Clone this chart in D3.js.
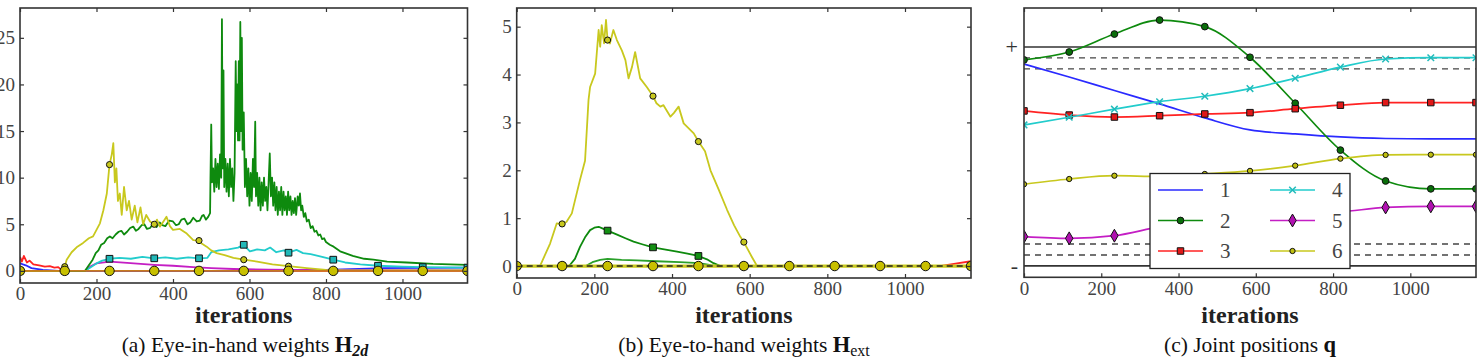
<!DOCTYPE html>
<html>
<head>
<meta charset="utf-8">
<script src="https://cdn.jsdelivr.net/npm/d3@7"></script>
<style>
body { margin: 0; background: #fff; }
svg { display: block; }
</style>
</head>
<body>
<script>
// iterations where matplotlib-style markers sit (markevery)
const markIters = [0, 117, 234, 351, 468, 585, 702, 819, 936, 1053, 1170];
const xTickVals = [0, 200, 400, 600, 800, 1000];

// (a) eye-in-hand weights, [iteration, weight]
const aRed = [[0,1.5],[5,1.0],[10,1.6],[18,0.9],[25,1.1],[35,0.7],[50,0.6],[65,0.45],[78,0.5],[90,0.35],[100,0.4],[108,0.1],[115,0],[1170,0]];
const aBlue = [[0,0.8],[15,0.6],[30,0.3],[60,0.1],[100,0],[600,0],[800,0.1],[950,0.3],[1170,0.35]];
const aMagenta = [[0,0],[170,0],[185,0.5],[200,0.8],[235,1.0],[280,0.85],[351,0.65],[400,0.55],[453,0.4],[500,0.3],[558,0.2],[650,0.12],[800,0.08],[1170,0.05]];
const aCyan = [[0,0],[117,0],[170,0],[185,0.4],[200,0.8],[215,1.1],[234,1.3],[260,1.4],[290,1.3],[320,1.5],[351,1.35],[380,1.45],[410,1.3],[440,1.45],[468,1.35],[490,1.4],[500,2.0],[520,2.2],[545,2.3],[570,2.5],[585,2.8],[601,2.1],[620,2.3],[640,2.2],[654,2.5],[670,2.0],[690,2.2],[702,1.95],[723,2.25],[740,1.9],[760,1.8],[790,1.5],[819,1.2],[850,0.9],[890,0.7],[936,0.55],[1000,0.45],[1053,0.4],[1170,0.35]];
const aYellow = [[0,0],[113,0],[117,0.45],[122,1.2],[135,2.0],[150,2.6],[165,3.0],[180,3.5],[191,3.7],[200,4.4],[209,5.1],[218,6.5],[227,8.3],[234,11.4],[240,12.5],[244,13.7],[248,9.5],[252,11],[256,7.5],[261,8.3],[266,6.0],[272,9.0],[279,6.5],[285,7.5],[292,5.5],[300,7.0],[307,5.2],[315,6.8],[322,5.0],[330,6.0],[340,5.3],[351,5.0],[358,5.5],[366,4.75],[375,5.3],[383,5.8],[392,4.8],[400,4.4],[418,4.5],[436,4.0],[453,3.3],[468,3.25],[476,2.9],[488,2.6],[500,2.2],[514,1.9],[535,1.7],[558,1.4],[585,1.2],[620,1.0],[660,0.7],[702,0.5],[750,0.3],[800,0.1],[819,0.08],[850,0.05],[936,0.05],[1053,0.05],[1170,0.05]];
const aGreen = [[0,0],[170,0],[175,0.3],[185,0.9],[190,1.2],[198,1.9],[205,2.2],[212,2.8],[220,3.0],[228,3.5],[235,3.7],[242,3.5],[250,3.9],[258,4.2],[265,4.3],[272,3.9],[280,4.2],[288,4.6],[296,4.75],[303,4.3],[310,4.5],[318,4.9],[325,5.0],[332,4.5],[340,4.6],[349,5.1],[357,4.7],[365,5.2],[372,4.9],[380,4.8],[390,5.4],[400,5.3],[408,4.9],[415,5.0],[422,5.5],[430,5.6],[438,5.0],[445,5.2],[453,5.7],[462,5.3],[470,5.4],[476,5.9],[480,6.0],[486,5.5],[492,5.8],[497,6.2],
    [498,10],[500,15.7],[502,9.5],[505,11],[508,8.5],[511,12],[514,9],[517,11.5],[520,8.8],[523,12.5],[526,10],[528,27],[530,11],[532,21.5],[534,9],[537,12],[540,8.5],[543,11.5],[546,8],[549,12],[552,9],[555,11],[558,7.5],[561,10.5],[564,22.5],[566,15],[568,20],[570,14],[572,22.5],[574,14],[576,26.7],[578,15],[580,25],[582,13],[585,17],[588,9],[591,12],[594,8],[597,11],[600,7],[603,10.5],[606,7.5],[609,12],[612,9],[615,16],[617,8],[620,10.5],[623,7],[626,10],[629,6.5],[632,9.5],[635,7],[638,10],[641,7.5],[644,9],[647,6.5],[650,9.5],[653,12.6],[656,8],[659,10],[662,7],[665,9.5],[668,6.5],[671,9],[674,6],[677,8.5],[680,6.5],[683,9],[686,6],[689,8.5],[692,6.5],[695,8],[698,6],[701,8.5],[704,6.5],[707,8],[710,6],[713,7.5],[716,6.2],[719,7.8],[722,6],[726,8],[729,7],[732,8.3],[735,6.5],[738,7],[742,5.8],[746,6.2],[750,5.3],[755,5.5],[760,4.6],[765,4.8],[770,4.2],[775,4.3],[780,3.8],[785,3.9],[790,3.4],[795,3.5],[800,3.1],[810,2.8],[820,2.6],[837,2.1],[850,1.9],[870,1.6],[900,1.3],[924,1.2],[960,1.0],[1011,0.9],[1080,0.75],[1170,0.65]];
const aZero = markIters.map(it => [it, 0]);

// (b) eye-to-hand weights
const bRed = [[0,0],[1090,0],[1130,0.05],[1170,0.1]];
const bGreenLow = [[0,0],[178,0],[195,0.08],[215,0.13],[234,0.15],[270,0.13],[310,0.12],[360,0.1],[420,0.08],[470,0.06],[500,0.02],[520,0],[1170,0]];
const bGreen = [[0,0],[117,0],[135,0],[150,0.15],[163,0.4],[176,0.6],[189,0.75],[200,0.8],[211,0.82],[222,0.78],[234,0.74],[260,0.65],[280,0.58],[301,0.51],[325,0.45],[351,0.39],[380,0.35],[413,0.3],[440,0.26],[468,0.21],[490,0.14],[507,0.06],[525,0],[585,0],[1170,0]];
const bYellow = [[0,0],[60,0],[86,0.47],[103,0.89],[117,0.88],[128,0.92],[142,1.1],[163,1.8],[176,2.2],[185,3.47],[189,3.74],[202,4.02],[211,4.93],[215,4.58],[219,5.03],[225,4.65],[230,5.14],[234,4.72],[240,4.65],[249,4.93],[258,4.72],[271,4.5],[280,4.3],[288,3.92],[297,4.16],[305,4.47],[318,3.92],[335,3.74],[351,3.55],[360,3.4],[370,3.33],[378,3.36],[396,3.12],[405,3.2],[417,3.33],[430,2.98],[456,2.77],[468,2.6],[485,2.4],[499,2.0],[520,1.6],[542,1.17],[560,0.85],[576,0.61],[585,0.5],[605,0.2],[619,0],[1170,0]];
const bZero = markIters.map(it => [it, 0]);

// (c) joint positions, normalised: 0 = lower limit (-), 1 = upper limit (+)
const qIter = markIters;
const q1 = [0.922,0.863,0.801,0.74,0.676,0.621,0.603,0.589,0.582,0.58,0.58];
const q2 = [0.941,0.977,1.059,1.123,1.093,0.953,0.743,0.529,0.388,0.352,0.352];
const q3 = [0.708,0.689,0.68,0.686,0.694,0.7,0.718,0.734,0.746,0.746,0.746];
const q4 = [0.644,0.679,0.716,0.75,0.775,0.81,0.857,0.908,0.945,0.951,0.951];
const q5 = [0.134,0.126,0.138,0.178,0.205,0.226,0.24,0.247,0.267,0.272,0.272];
const q6 = [0.373,0.397,0.412,0.409,0.42,0.434,0.458,0.49,0.507,0.508,0.508];
const qLimits = [0, 1];
const qMargins = [0.05, 0.1, 0.9, 0.95];
const legendLabels = ["1", "2", "3", "4", "5", "6"];

const C = {
    blue: "#2a2aff", green: "#0e8a0e", red: "#ff2222",
    cyan: "#22cccc", magenta: "#c41ec4", yellow: "#c8c81e"
};
const serif = "'Liberation Serif', 'DejaVu Serif', serif";

const svg = d3.select("body").append("svg")
    .attr("width", 1480).attr("height", 359);

function drawPanel(p, id) {
    let x = d3.scaleLinear().domain([0, 1170]).range([p.left, p.right]);
    let y = d3.scaleLinear().domain(p.yDomain).range([p.bottom, p.top]);
    let g = svg.append("g");

    g.append("clipPath").attr("id", id)
        .append("rect")
        .attr("x", p.left).attr("y", p.top)
        .attr("width", p.right - p.left).attr("height", p.bottom - p.top);
    let plot = g.append("g").attr("clip-path", "url(#" + id + ")");

    // inward ticks on every side, labels only bottom/left
    let bottom = g.append("g").attr("transform", "translate(0," + p.bottom + ")")
        .call(d3.axisBottom(x).tickValues(xTickVals).tickSize(-4).tickSizeOuter(0)
            .tickPadding(4).tickFormat(d3.format("d")));
    let top = g.append("g").attr("transform", "translate(0," + p.top + ")")
        .call(d3.axisTop(x).tickValues(xTickVals).tickSize(-4).tickSizeOuter(0).tickFormat(""));
    let axes = [bottom, top];
    if (p.yTicks) {
        axes.push(g.append("g").attr("transform", "translate(" + p.left + ",0)")
            .call(d3.axisLeft(y).tickValues(p.yTicks).tickSize(-4).tickSizeOuter(0)
                .tickPadding(5).tickFormat(d3.format("d"))));
        axes.push(g.append("g").attr("transform", "translate(" + p.right + ",0)")
            .call(d3.axisRight(y).tickValues(p.yTicks).tickSize(-4).tickSizeOuter(0).tickFormat("")));
    }
    axes.forEach(a => {
        a.select(".domain").remove();
        a.selectAll("line").attr("stroke", "#333").attr("stroke-width", 1.2);
        a.selectAll("text").attr("font-family", serif).attr("font-size", 19).attr("fill", "#444");
    });

    g.append("text")
        .attr("x", (p.left + p.right) / 2).attr("y", 323)
        .attr("text-anchor", "middle")
        .attr("font-family", serif).attr("font-size", 24).attr("font-weight", "bold")
        .attr("fill", "#222")
        .text("iterations");

    return {x: x, y: y, g: g, plot: plot, p: p};
}

function drawFrame(P) {
    let p = P.p;
    P.g.append("rect")
        .attr("x", p.left).attr("y", p.top)
        .attr("width", p.right - p.left).attr("height", p.bottom - p.top)
        .attr("fill", "none").attr("stroke", "#333").attr("stroke-width", 1.6);
}

function drawLine(P, data, color, opts) {
    opts = opts || {};
    let line = d3.line()
        .x(d => P.x(d[0])).y(d => P.y(d[1]))
        .curve(opts.curve || d3.curveLinear);
    P.plot.append("path").datum(data)
        .attr("d", line)
        .attr("fill", "none").attr("stroke", color)
        .attr("stroke-width", opts.width || 1.8)
        .attr("stroke-linejoin", "round")
        .attr("stroke-dasharray", opts.dash || null);
}

function symbolFor(kind) {
    if (kind === "square") return d3.symbolSquare;
    if (kind === "diamond") return d3.symbolDiamond;
    if (kind === "x") return d3.symbolTimes;
    return d3.symbolCircle;
}

function drawMarkers(P, data, kind, fill, size) {
    let pts = data.filter(d => markIters.indexOf(d[0]) >= 0);
    P.plot.selectAll(null).data(pts).enter().append("path")
        .attr("transform", d => "translate(" + P.x(d[0]) + "," + P.y(d[1]) + ")")
        .attr("d", d3.symbol().type(symbolFor(kind)).size(size))
        .attr("fill", kind === "x" ? "none" : fill)
        .attr("stroke", kind === "x" ? fill : "#111")
        .attr("stroke-width", kind === "x" ? 1.5 : 1);
}

// ---------- (a)
let A = drawPanel({left: 20, top: 8, right: 467.5, bottom: 283, yDomain: [-1.3, 28.2], yTicks: [0, 5, 10, 15, 20, 25]}, "clipA");
drawLine(A, aRed, C.red);
drawLine(A, aBlue, C.blue);
drawLine(A, aMagenta, C.magenta);
drawLine(A, aCyan, C.cyan);
drawLine(A, aGreen, C.green);
drawLine(A, aYellow, C.yellow);
drawLine(A, aZero, "#c87a1e", {width: 1.8});
drawMarkers(A, aCyan, "square", "#20b8b8", 45);
drawMarkers(A, aYellow, "circle", "#c8c81e", 30);
drawMarkers(A, aZero, "circle", "#c8c000", 70);
drawFrame(A);

// ---------- (b)
let B = drawPanel({left: 516.7, top: 8, right: 971, bottom: 278, yDomain: [-0.25, 5.39], yTicks: [0, 1, 2, 3, 4, 5]}, "clipB");
drawLine(B, bRed, C.red);
drawLine(B, bGreenLow, "#2aa02a");
drawLine(B, bGreen, C.green);
drawLine(B, bYellow, C.yellow);
drawLine(B, bZero, C.yellow, {width: 3.2});
drawLine(B, bZero, "#222", {width: 1.6, dash: "6,4"});
drawMarkers(B, bGreen, "square", "#139013", 45);
drawMarkers(B, bYellow, "circle", "#c8c81e", 30);
drawMarkers(B, bZero, "circle", "#c8c000", 70);
drawFrame(B);

// ---------- (c)
let Q = drawPanel({left: 1024, top: 8, right: 1476, bottom: 277.3, yDomain: [-0.052, 1.178]}, "clipC");
qLimits.forEach(v => {
    Q.plot.append("line")
        .attr("x1", Q.p.left).attr("x2", Q.p.right)
        .attr("y1", Q.y(v)).attr("y2", Q.y(v))
        .attr("stroke", "#333").attr("stroke-width", 1.6);
});
qMargins.forEach(v => {
    Q.plot.append("line")
        .attr("x1", Q.p.left).attr("x2", Q.p.right)
        .attr("y1", Q.y(v)).attr("y2", Q.y(v))
        .attr("stroke", "#444").attr("stroke-width", 1.4).attr("stroke-dasharray", "6,5");
});
Q.g.selectAll(null).data([["+", 1], ["-", 0]]).enter().append("text")
    .attr("x", 1018).attr("y", d => Q.y(d[1]))
    .attr("dy", "0.33em")
    .attr("text-anchor", "end")
    .attr("font-family", serif).attr("font-size", 22).attr("fill", "#333")
    .text(d => d[0]);

let joints = [
    {v: q1, color: C.blue, marker: null},
    {v: q2, color: C.green, marker: "circle", mfill: "#0a6e0a", size: 36},
    {v: q3, color: C.red, marker: "square", mfill: "#e01818", size: 42},
    {v: q4, color: C.cyan, marker: "x", mfill: "#22bbbb", size: 30},
    {v: q5, color: C.magenta, marker: "diamond", mfill: "#b010b0", size: 48},
    {v: q6, color: C.yellow, marker: "circle", mfill: "#c0c010", size: 22}
];
joints.forEach(j => {
    let data = qIter.map((it, i) => [it, j.v[i]]);
    drawLine(Q, data, j.color, {curve: d3.curveMonotoneX, width: 1.7});
    if (j.marker) drawMarkers(Q, data, j.marker, j.mfill, j.size);
});
drawFrame(Q);

// legend
let lg = Q.g.append("g");
lg.append("rect")
    .attr("x", 1150).attr("y", 173.5).attr("width", 200).attr("height", 95)
    .attr("fill", "#fff").attr("stroke", "#222").attr("stroke-width", 1.3);
joints.forEach((j, i) => {
    let col = Math.floor(i / 3), row = i % 3;
    let x0 = col === 0 ? 1158 : 1270;
    let yy = 190 + row * 30.5;
    lg.append("line").attr("x1", x0).attr("x2", x0 + 45).attr("y1", yy).attr("y2", yy)
        .attr("stroke", j.color).attr("stroke-width", 1.7);
    if (j.marker) {
        lg.append("path")
            .attr("transform", "translate(" + (x0 + 22.5) + "," + yy + ")")
            .attr("d", d3.symbol().type(symbolFor(j.marker)).size(j.size))
            .attr("fill", j.marker === "x" ? "none" : j.mfill)
            .attr("stroke", j.marker === "x" ? j.mfill : "#111")
            .attr("stroke-width", j.marker === "x" ? 1.5 : 1);
    }
    lg.append("text").attr("x", col === 0 ? 1220 : 1332).attr("y", yy).attr("dy", "0.35em")
        .attr("font-family", serif).attr("font-size", 21).attr("fill", "#444")
        .text(legendLabels[i]);
});

// captions
function caption(cx, lead, bold, sub) {
    let t = svg.append("text")
        .attr("x", cx).attr("y", 352).attr("text-anchor", "middle")
        .attr("font-family", serif).attr("font-size", 21.5).attr("fill", "#111");
    t.append("tspan").text(lead);
    t.append("tspan").attr("font-weight", "bold").attr("font-size", 22.5).text(bold);
    if (sub) {
        t.append("tspan").attr("dy", 4).attr("font-size", 16)
            .attr("font-weight", sub.bold ? "bold" : "normal")
            .attr("font-style", sub.italic ? "italic" : "normal")
            .text(sub.text);
    }
}
caption(245, "(a) Eye-in-hand weights ", "H", {text: "2d", bold: true, italic: true});
caption(744, "(b) Eye-to-hand weights ", "H", {text: "ext"});
caption(1250, "(c) Joint positions ", "q", null);
</script>
</body>
</html>
